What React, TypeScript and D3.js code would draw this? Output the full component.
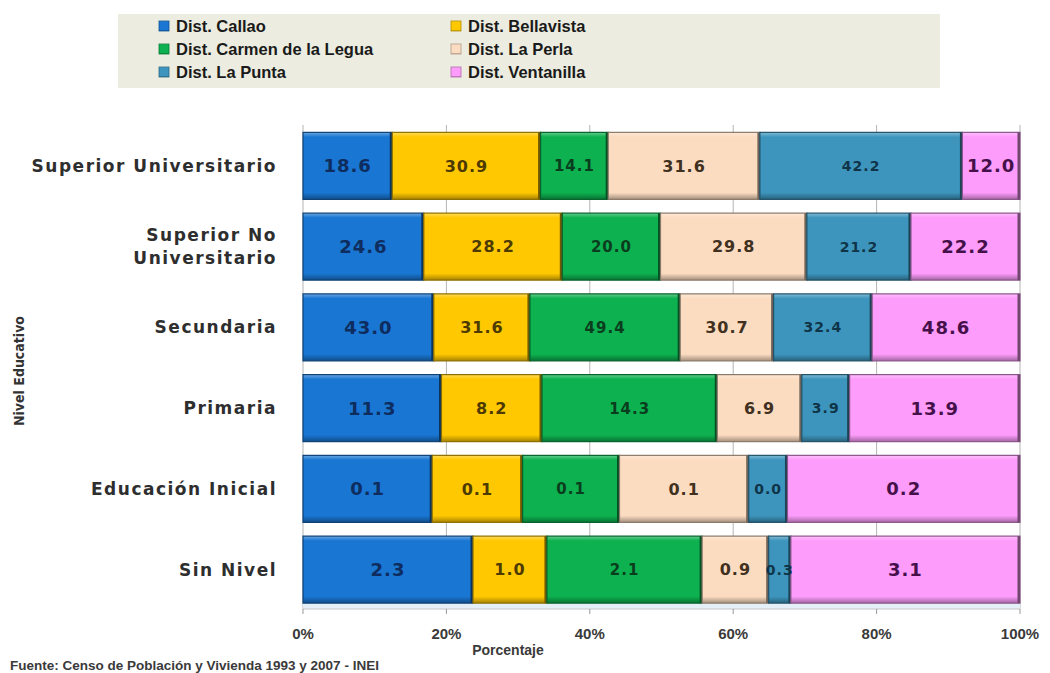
import React from "react";
import * as d3 from "d3";

// ---- Data ----
const categories = [
  "Superior Universitario",
  "Superior No Universitario",
  "Secundaria",
  "Primaria",
  "Educación Inicial",
  "Sin Nivel",
];
const categoryLines = [
  ["Superior Universitario"],
  ["Superior No", "Universitario"],
  ["Secundaria"],
  ["Primaria"],
  ["Educación Inicial"],
  ["Sin Nivel"],
];
const seriesNames = [
  "Dist. Callao",
  "Dist. Bellavista",
  "Dist. Carmen de la Legua",
  "Dist. La Perla",
  "Dist. La Punta",
  "Dist. Ventanilla",
];
const callao = [18.6, 24.6, 43.0, 11.3, 0.1, 2.3];
const bellavista = [30.9, 28.2, 31.6, 8.2, 0.07, 1.0];
const carmen = [14.1, 20.0, 49.4, 14.3, 0.075, 2.1];
const laPerla = [31.6, 29.8, 30.7, 6.9, 0.1, 0.9];
const laPunta = [42.2, 21.2, 32.4, 3.9, 0.03, 0.3];
const ventanilla = [12.0, 22.2, 48.6, 13.9, 0.18, 3.1];
const seriesValues = [callao, bellavista, carmen, laPerla, laPunta, ventanilla];
const tickValues = [0, 0.2, 0.4, 0.6, 0.8, 1];
const xTitle = "Porcentaje";
const yTitle = "Nivel Educativo";
const source = "Fuente: Censo de Población y Vivienda 1993 y 2007 - INEI";

// ---- Styles ----
const colors = ["#1976d2", "#ffc800", "#0db14f", "#fcdcc1", "#3d95bd", "#fd9cfb"];
const textColors = ["#0e2c5e", "#4d3a00", "#0a3d1e", "#3f3020", "#0f3448", "#45104a"];
const labelSizes = [18, 16, 15, 16, 14, 18];

const W = 1050;
const H = 673;
const x0 = 303;
const x1 = 1020;
const plotTop = 125;
const floorY = 609;

export default function App() {
  const rows = categories.map((c, i) => {
    const o: any = { cat: c };
    seriesNames.forEach((s, j) => (o[s] = seriesValues[j][i]));
    return o;
  });
  const stack = d3.stack<any>().keys(seriesNames).offset(d3.stackOffsetExpand);
  const stacked = stack(rows);

  const x = d3.scaleLinear().domain([0, 1]).range([x0, x1]);
  const y = d3
    .scaleBand<string>()
    .domain(categories)
    .range([plotTop + 0.5, floorY + 1])
    .paddingInner(0.17)
    .paddingOuter(0.085);
  const bw = y.bandwidth();
  const fmt = d3.format(".0%");

  const lighter = (c: string) => d3.interpolateRgb(c, "#ffffff")(0.35);
  const darker = (c: string, t: number) => d3.interpolateRgb(c, "#000000")(t);

  return (
    <svg
      width={W}
      height={H}
      style={{ position: "absolute", left: 0, top: 0, background: "#fff" }}
    >
      <defs>
        {colors.map((c, i) => (
          <linearGradient key={i} id={`g${i}`} x1="0" y1="0" x2="0" y2="1">
            <stop offset="0" stopColor={lighter(c)} />
            <stop offset="0.07" stopColor={c} />
            <stop offset="0.9" stopColor={c} />
            <stop offset="1" stopColor={darker(c, 0.35)} />
          </linearGradient>
        ))}
      </defs>

      {/* Legend */}
      <rect x={118} y={14} width={822} height={74} fill="#ecede0" />
      {seriesNames.map((s, i) => {
        const col = i % 2;
        const row = Math.floor(i / 2);
        const lx = col === 0 ? 159 : 451;
        const ly = 26 + row * 23;
        return (
          <g key={s}>
            <rect
              x={lx}
              y={ly - 5}
              width={10}
              height={10}
              fill={`url(#g${i})`}
              stroke={darker(colors[i], 0.3)}
              strokeWidth={0.8}
            />
            <text
              x={lx + 17}
              y={ly}
              dy="0.35em"
              fontFamily="'Liberation Sans', Arial, sans-serif"
              fontWeight="bold"
              fontSize={16.5}
              fill="#1a1a1a"
            >
              {s}
            </text>
          </g>
        );
      })}

      {/* Gridlines */}
      {tickValues.map((t) => (
        <line
          key={t}
          x1={x(t)}
          x2={x(t)}
          y1={plotTop}
          y2={floorY}
          stroke="#b4b4b4"
          strokeWidth={1}
        />
      ))}
      {/* floor */}
      <rect x={x0} y={603} width={x1 - x0} height={floorY - 603} fill="#e4eff8" />
      <line x1={x0} x2={x1} y1={floorY} y2={floorY} stroke="#c4c4c4" />
      {tickValues.map((t) => (
        <line
          key={"t" + t}
          x1={x(t)}
          x2={x(t)}
          y1={floorY}
          y2={floorY + 5}
          stroke="#999"
        />
      ))}

      {/* Bars */}
      {stacked.map((layer, si) => (
        <g key={layer.key}>
          {layer.map((d, ci) => {
            const cat = categories[ci];
            const bx = x(d[0]);
            const bwid = x(d[1]) - x(d[0]);
            const by = y(cat)!;
            return (
              <g key={cat}>
                <rect
                  x={bx}
                  y={by}
                  width={bwid}
                  height={bw}
                  fill={`url(#g${si})`}
                  stroke={darker(colors[si], 0.45)}
                  strokeWidth={1.2}
                />
                <rect
                  x={bx + bwid - 2.5}
                  y={by}
                  width={2.5}
                  height={bw}
                  fill={darker(colors[si], 0.55)}
                />
              </g>
            );
          })}
        </g>
      ))}

      {/* Value labels */}
      {stacked.map((layer, si) =>
        layer.map((d, ci) => {
          const cat = categories[ci];
          const cx = (x(d[0]) + x(d[1])) / 2;
          const cy = y(cat)! + bw / 2;
          return (
            <text
              key={layer.key + cat}
              x={cx}
              y={cy}
              dy="0.36em"
              textAnchor="middle"
              fontFamily="'DejaVu Sans', sans-serif"
              fontWeight="bold"
              fontSize={labelSizes[si]}
              letterSpacing={1}
              fill={textColors[si]}
            >
              {seriesValues[si][ci].toFixed(1)}
            </text>
          );
        })
      )}

      {/* Category labels */}
      {categories.map((c, i) => {
        const lines = categoryLines[i];
        const cy = y(c)! + bw / 2;
        return (
          <text
            key={c}
            x={277}
            y={cy}
            textAnchor="end"
            fontFamily="'DejaVu Sans', sans-serif"
            fontWeight="bold"
            fontSize={17}
            letterSpacing={1.5}
            fill="#2e2e2e"
          >
            {lines.map((l, k) => (
              <tspan
                key={k}
                x={277}
                dy={k === 0 ? `${0.36 - (lines.length - 1) * 0.68}em` : "1.36em"}
              >
                {l}
              </tspan>
            ))}
          </text>
        );
      })}

      {/* X tick labels */}
      {tickValues.map((t) => (
        <text
          key={"l" + t}
          x={x(t)}
          y={634}
          dy="0.35em"
          textAnchor="middle"
          fontFamily="'Liberation Sans', Arial, sans-serif"
          fontWeight="bold"
          fontSize={15}
          fill="#3a3a3a"
        >
          {fmt(t)}
        </text>
      ))}

      {/* Axis titles */}
      <text
        x={508}
        y={650}
        dy="0.35em"
        textAnchor="middle"
        fontFamily="'Liberation Sans', Arial, sans-serif"
        fontWeight="bold"
        fontSize={14}
        fill="#3a3a3a"
      >
        {xTitle}
      </text>
      <text
        transform="translate(19,371) rotate(-90)"
        textAnchor="middle"
        dy="0.35em"
        fontFamily="'Liberation Sans Narrow', 'DejaVu Sans Condensed', sans-serif"
        fontWeight="bold"
        fontSize={14}
        fill="#333"
      >
        {yTitle}
      </text>

      {/* Source */}
      <text
        x={10}
        y={670}
        fontFamily="'Liberation Sans', Arial, sans-serif"
        fontWeight="bold"
        fontSize={13.5}
        fill="#3a3a3a"
      >
        {source}
      </text>
    </svg>
  );
}
